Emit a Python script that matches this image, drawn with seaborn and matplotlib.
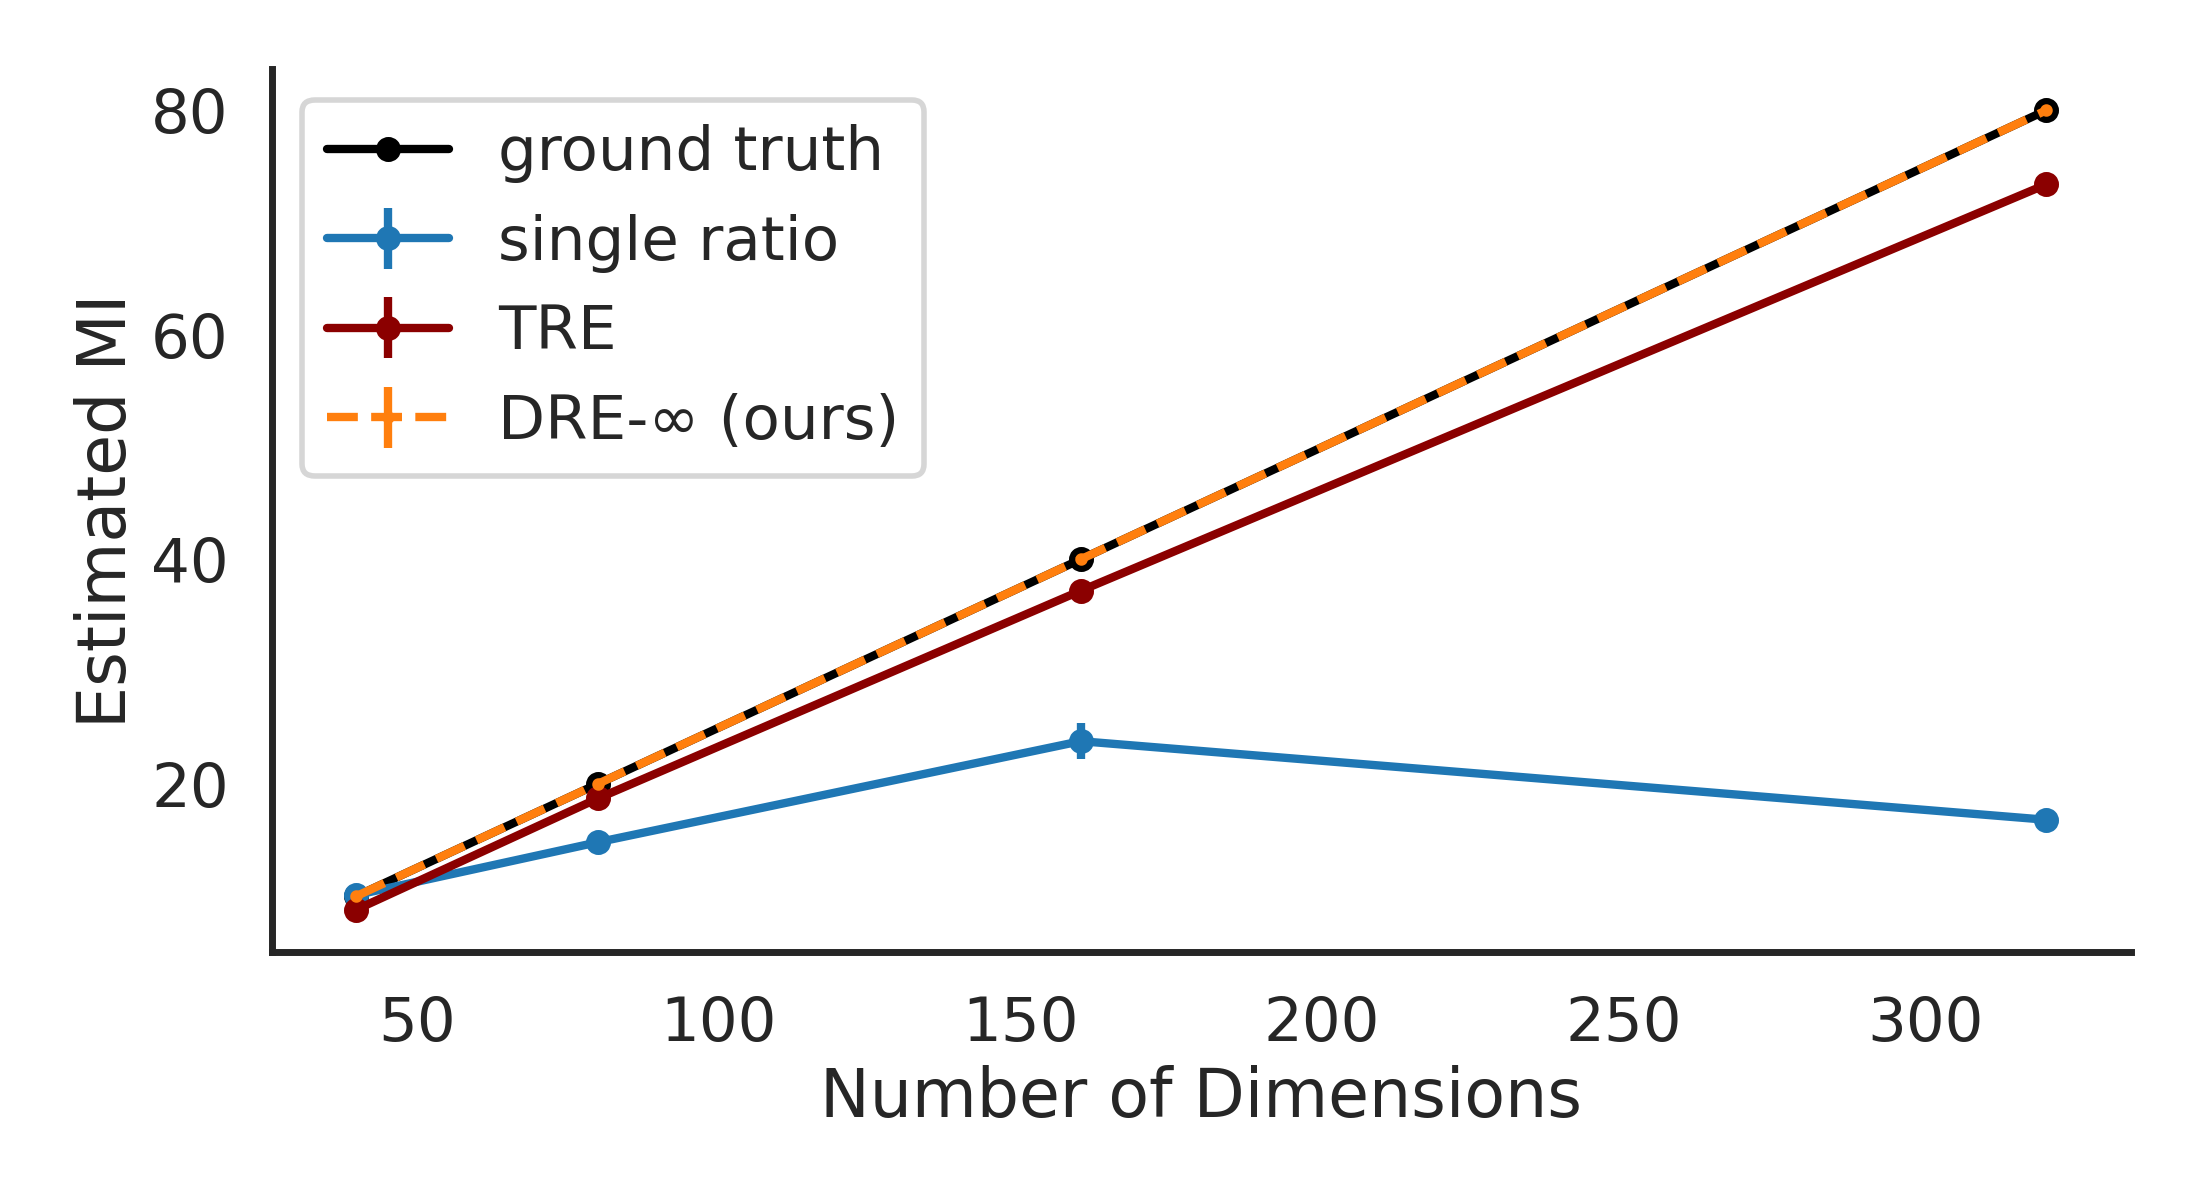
import numpy as np
import pandas as pd
import matplotlib
matplotlib.use("Agg")
import matplotlib.pyplot as plt
import seaborn as sns

dims = [40, 80, 160, 320]
ground_truth = [10, 20, 40, 80]
single_ratio = [10.1, 14.8, 23.8, 16.8]
single_ratio_err = [0.2, 0.3, 1.6, 0.3]
tre = [8.8, 18.7, 37.2, 73.4]
tre_err = [0.2, 0.2, 0.3, 0.3]
dre_inf = [10.0, 20.0, 40.0, 80.0]
dre_inf_err = [0.05, 0.05, 0.1, 0.1]

sns.set_theme(style="white", context="poster")
plt.rcParams['font.family'] = ['DejaVu Sans']

fig, ax = plt.subplots(figsize=(11, 6), dpi=200)
fig.subplots_adjust(left=0.1236, right=0.9686, bottom=0.2067, top=0.9425)

MS = 7
MEW = 2

gt_df = pd.DataFrame({"dims": dims, "mi": ground_truth})
sns.lineplot(data=gt_df, x="dims", y="mi", ax=ax, color="black", marker="o",
             markersize=MS, markeredgewidth=MEW, markeredgecolor="black",
             label="ground truth")
ax.errorbar(dims, single_ratio, yerr=single_ratio_err, fmt="o-", color="tab:blue",
            markersize=MS, markeredgewidth=MEW, label="single ratio")
ax.errorbar(dims, tre, yerr=tre_err, fmt="o-", color="darkred",
            markersize=MS, markeredgewidth=MEW, label="TRE")
ax.errorbar(dims, dre_inf, yerr=dre_inf_err, fmt=".--", color="tab:orange",
            markersize=6, markeredgewidth=1.5, label="DRE-∞ (ours)")

ax.set_xlabel("Number of Dimensions")
ax.set_ylabel("Estimated MI")
ax.set_yticks([20, 40, 60, 80])
ax.set_xticks([50, 100, 150, 200, 250, 300])
sns.despine(ax=ax)
ax.legend(loc="upper left")

fig.savefig("out.png", dpi=200)
